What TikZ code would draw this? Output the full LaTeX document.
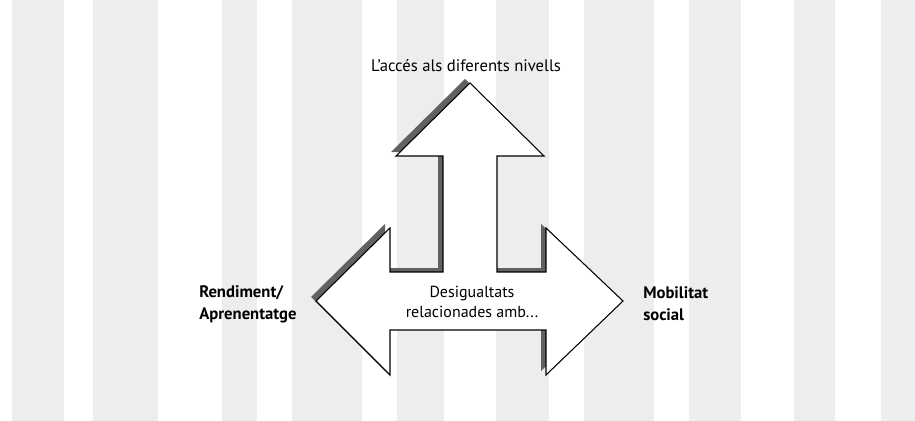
\documentclass[tikz,border=0pt]{standalone}
\usepackage{fontspec}
\setmainfont{PT Sans}
\tikzset{
    band/.style={fill=black!7},
    arrowbody/.style={draw=black, line width=0.8pt, fill=white, line join=miter},
    arrowshadow/.style={fill=black!62},
    sidelabel/.style={font=\bfseries\fontsize{12.5}{16.5}\selectfont, align=left, inner sep=0pt},
    midlabel/.style={font=\fontsize{12}{15}\selectfont, align=center, inner sep=0pt}
}
\def\triarrow{(470,83) -- (544,156) -- (497,156) -- (497,272) -- (546,272) -- (546,228) -- (623,301) -- (546,375) -- (546,330) -- (390,330) -- (390,375) -- (316,301) -- (390,228) -- (390,272) -- (443,272) -- (443,156) -- (396,156) -- cycle}
\begin{document}
\begin{tikzpicture}[x=0.75pt, y=-0.75pt]

    \useasboundingbox (0,0) rectangle (915,421);
    \fill[white] (0,0) rectangle (915,421);

    % background stripes
    \fill[band] (12,0) rectangle (64,421);
    \fill[band] (93,0) rectangle (158,421);
    \fill[band] (222,0) rectangle (257,421);
    \fill[band] (292,0) rectangle (362,421);
    \fill[band] (397,0) rectangle (444,421);
    \fill[band] (496,0) rectangle (549,421);
    \fill[band] (584,0) rectangle (654,421);
    \fill[band] (689,0) rectangle (741,421);
    \fill[band] (794,0) rectangle (835,421);
    \fill[band] (881,0) rectangle (915,421);

    % three-way arrow
    \fill[arrowshadow, shift={(-5,-4)}] \triarrow;
    \filldraw[arrowbody] \triarrow;

    \node (niv) at (466,66) {\fontsize{12.5}{15}\selectfont L'accés als diferents nivells};
    \node[midlabel] (des) at (472,302) {Desigualtats\\relacionades amb...};
    \node[sidelabel, anchor=west] (ren) at (199,304) {Rendiment/\\Aprenentatge};
    \node[sidelabel, anchor=west] (mob) at (643,304) {Mobilitat\\social};

\end{tikzpicture}
\end{document}
